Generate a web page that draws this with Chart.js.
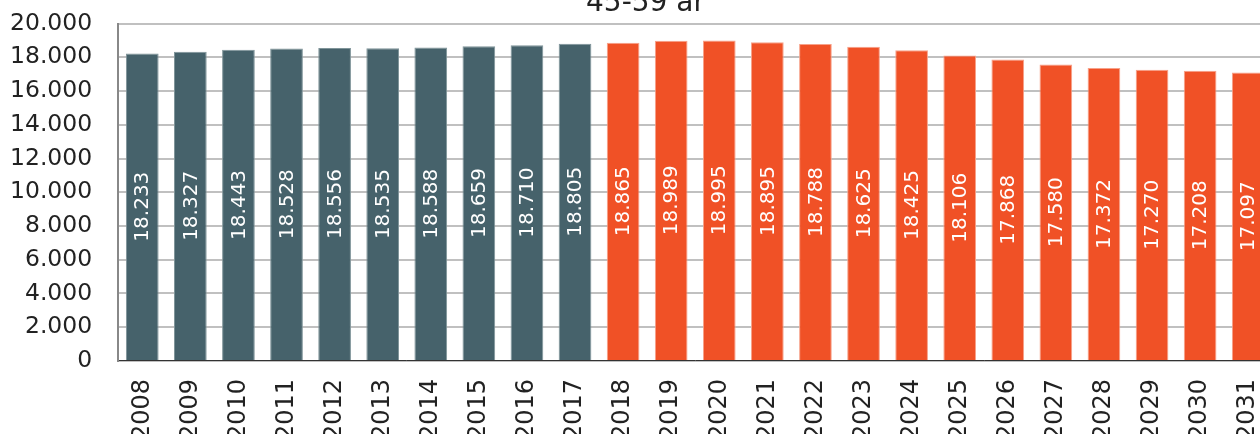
<!DOCTYPE html>
<html>
<head>
<meta charset="utf-8">
<script src="https://cdn.jsdelivr.net/npm/chart.js@4/dist/chart.umd.min.js"></script>
<style>
  html, body { margin: 0; padding: 0; background: #fff; overflow: hidden; }
  #wrap { position: relative; width: 1260px; height: 434px; overflow: hidden; }
  #chart { position: absolute; left: 0; top: -18px; }
</style>
</head>
<body>
<div id="wrap"><canvas id="chart" width="1295" height="476"></canvas></div>
<script>
// 45-59 year olds, actual figures up to 2017, projection after
const years = ["2008", "2009", "2010", "2011", "2012", "2013", "2014", "2015",
  "2016", "2017", "2018", "2019", "2020", "2021", "2022", "2023", "2024", "2025",
  "2026", "2027", "2028", "2029", "2030", "2031"];
const people = [18233, 18327, 18443, 18528, 18556, 18535, 18588, 18659,
  18710, 18805, 18865, 18989, 18995, 18895, 18788, 18625, 18425, 18106,
  17868, 17580, 17372, 17270, 17208, 17097];
const lastActual = 2017;
const yTicks = [0, 2000, 4000, 6000, 8000, 10000, 12000, 14000, 16000, 18000, 20000];

const font = "'DejaVu Sans', Verdana, sans-serif";

function fmt(v) {
  return String(v).replace(/\B(?=(\d{3})+(?!\d))/g, ".");
}

const barColors = years.map(y => (+y <= lastActual ? "#46626b" : "#f05126"));
const edgeColors = years.map(y => (+y <= lastActual ? "#7f9499" : "#f7a189"));

// white rotated value labels in the middle of each bar
const barLabels = {
  id: "barLabels",
  afterDatasetsDraw(chart) {
    const c = chart.ctx;
    const meta = chart.getDatasetMeta(0);
    c.save();
    c.fillStyle = "#ffffff";
    c.font = "20px " + font;
    c.textAlign = "center";
    c.textBaseline = "middle";
    meta.data.forEach((bar, i) => {
      const mid = (bar.y + bar.base) / 2;
      c.save();
      c.translate(bar.x, mid);
      c.rotate(-Math.PI / 2);
      c.fillText(fmt(people[i]), 0, 1);
      c.restore();
    });
    c.restore();
  }
};

const ctx = document.getElementById("chart").getContext("2d");
const chart = new Chart(ctx, {
  type: "bar",
  data: {
    labels: years,
    datasets: [{
      data: people,
      backgroundColor: barColors,
      borderColor: edgeColors,
      borderWidth: 1,
      categoryPercentage: 1,
      barPercentage: 0.68
    }]
  },
  options: {
    responsive: false,
    animation: false,
    devicePixelRatio: 1,
    layout: { padding: { left: -16, right: -12, top: 0, bottom: 0 } },
    plugins: {
      legend: { display: false },
      tooltip: { enabled: false },
      title: {
        display: true,
        text: "45-59 år",
        color: "#222",
        font: { family: font, size: 28, weight: "normal" },
        padding: { top: 5, bottom: 3 }
      }
    },
    scales: {
      x: {
        grid: { display: false, drawTicks: false },
        border: { display: true, color: "#333", width: 1 },
        ticks: {
          color: "#222",
          font: { family: font, size: 24 },
          minRotation: 90,
          maxRotation: 90,
          padding: 18,
          autoSkip: false
        }
      },
      y: {
        min: 0,
        max: 20000,
        afterBuildTicks: axis => { axis.ticks = yTicks.map(v => ({ value: v })); },
        grid: { color: "#c0c0c0", lineWidth: 2, drawTicks: false },
        border: { display: true, color: "#888", width: 2 },
        ticks: {
          color: "#222",
          font: { family: font, size: 23.5 },
          padding: 26,
          callback: v => fmt(v)
        }
      }
    }
  },
  plugins: [barLabels]
});
</script>
</body>
</html>
